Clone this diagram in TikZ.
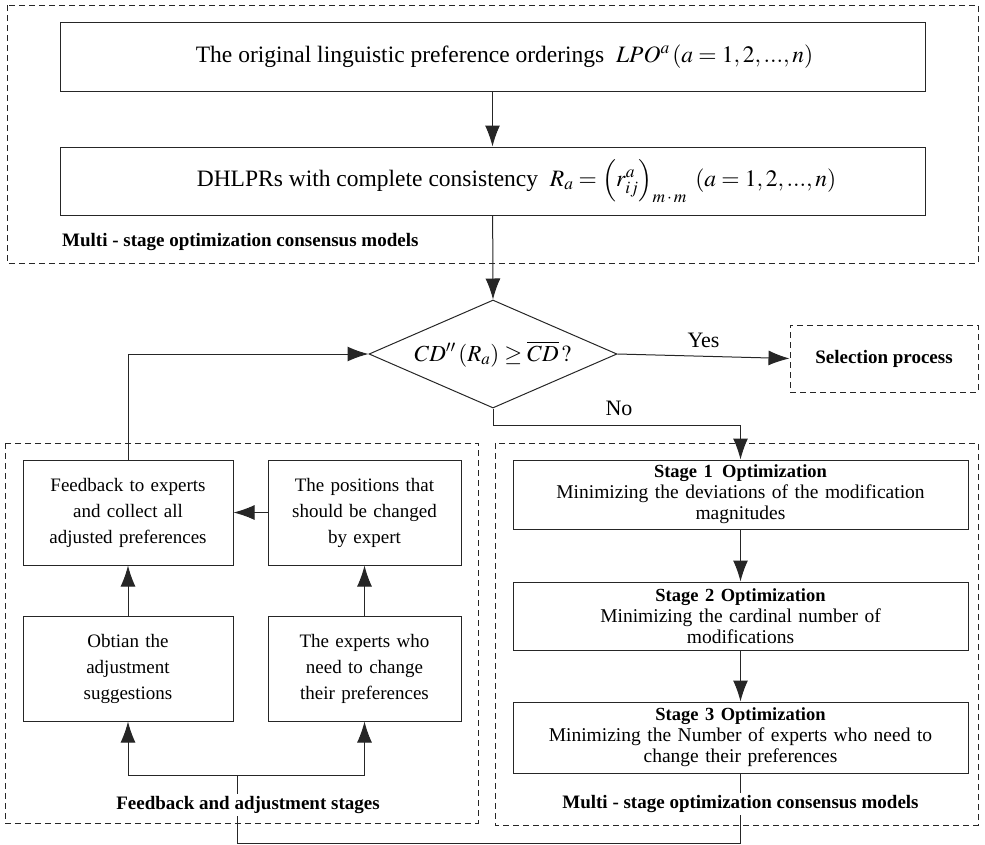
\documentclass[tikz,border=0pt]{standalone}
\usepackage{mathptmx}
\usepackage{fontspec}
\setmainfont{Liberation Serif}
\usetikzlibrary{arrows.meta,shapes.geometric,calc}
\tikzset{
  box/.style={draw=black!85, line width=1pt, rectangle, align=center, inner sep=2pt, font=\fontsize{19}{26}\selectfont},
  bigbox/.style={box, font=\fontsize{23.5}{26}\selectfont},
  stagebox/.style={box, minimum width=455pt, text width=450pt, font=\fontsize{19.5}{21}\selectfont},
  region/.style={draw=black!85, line width=1pt, dash pattern=on 6pt off 4pt},
  lbl/.style={font=\fontsize{19}{22}\selectfont\bfseries, inner sep=2pt},
  arr/.style={draw=black!85, line width=1pt, -{Latex[length=21pt,width=15pt]}},
  ln/.style={draw=black!85, line width=1pt},
}
\begin{document}
\begin{tikzpicture}[x=1pt,y=-1pt]
\useasboundingbox (0,0) rectangle (985,844);
% regions
\draw[region] (7,5) rectangle (978,263);
\draw[region] (5,443) rectangle (478,823);
\draw[region] (495,443) rectangle (978,825);
\node[region, minimum width=188pt, minimum height=67pt, inner sep=0pt] (sel) at (884,358.5) {};
\node[lbl] (selt) at (884,358.5) {Selection process};
% top boxes
\node[bigbox, minimum width=865pt, minimum height=69pt] (b1) at (492.5,56.5)
  {\hspace*{24pt}The original linguistic preference orderings\ \ $LPO^{a}\left(a=1,2,...,n\right)$};
\node[bigbox, minimum width=865pt, minimum height=68pt] (b2) at (492.5,181)
  {\hspace*{48pt}DHLPRs with complete consistency\ \ $R_{a}=\left(r_{ij}^{a}\right)_{m\,\cdot\, m}\ \left(a=1,2,...,n\right)$};
\node[lbl, anchor=west] (toplbl) at (60,242) {Multi - stage optimization consensus models};
% diamond
\node[draw=black!85, line width=1pt, diamond, minimum width=248pt, minimum height=108pt, inner sep=0pt, aspect=2.3, font=\fontsize{23}{26}\selectfont] (dia) at (493,354)
  {$CD''\left(R_{a}\right)\geq\overline{CD}\,?$};
% left boxes
\node[box, minimum width=210pt, minimum height=105pt, text width=200pt] (fb) at (128,512.5)
  {Feedback to experts\\ and collect all\\ adjusted preferences};
\node[box, minimum width=193pt, minimum height=105pt, text width=185pt] (pos) at (364.5,512.5)
  {The positions that\\ should be changed\\ by expert};
\node[box, minimum width=210pt, minimum height=105pt, text width=200pt] (obt) at (128,668.5)
  {Obtian the\\ adjustment\\ suggestions};
\node[box, minimum width=193pt, minimum height=105pt, text width=185pt] (exp) at (364.5,668.5)
  {The experts who\\ need to change\\ their preferences};
% stage boxes
\node[stagebox, minimum height=69pt] (s1) at (740.5,494.5)
  {{\fontsize{18.5}{21}\selectfont\bfseries Stage 1\enspace Optimization}\\ Minimizing the deviations of the modification\\ magnitudes};
\node[stagebox, minimum height=68pt] (s2) at (740.5,616)
  {{\fontsize{18.5}{21}\selectfont\bfseries Stage 2 Optimization}\\ Minimizing the cardinal number of\\ modifications};
\node[stagebox, minimum height=71pt] (s3) at (740.5,737.5)
  {{\fontsize{18.5}{21}\selectfont\bfseries Stage 3 Optimization}\\ Minimizing the Number of experts who need to\\ change their preferences};
% connectors
\draw[arr] (b1) -- (b2);
\draw[arr] (b2) -- (dia.north);
\draw[arr] (dia.east) -- node[above=5pt, font=\fontsize{22}{24}\selectfont] (yes) {Yes} (sel.west);
\coordinate (noturn) at (493,425);
\draw[arr] (dia.south) -- (noturn) -| (s1.north);
\node[font=\fontsize{22}{24}\selectfont] (no) at (619,408) {No};
\draw[arr] (fb.north) |- (dia.west);
\draw[arr] (pos.west) -- (fb.east);
\draw[arr] (obt.north) -- (fb.south);
\draw[arr] (exp.north) -- (pos.south);
\draw[arr] (s1.south) -- (s2.north);
\draw[arr] (s2.south) -- (s3.north);
\coordinate (jn) at (237,775);
\coordinate (bl) at (237,843);
\draw[ln] (s3.south) |- (bl) -- (jn);
\draw[arr] (jn) -| (obt.south);
\draw[arr] (jn) -| (exp.south);
\node[lbl, fill=white] (leftlbl) at (248,805) {Feedback and adjustment stages};
\node[lbl, fill=white] (rightlbl) at (740.5,804) {Multi - stage optimization consensus models};
\end{tikzpicture}
\end{document}
